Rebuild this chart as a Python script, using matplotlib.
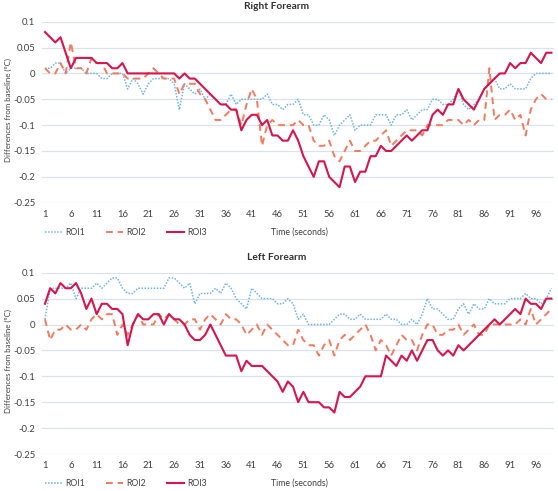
import numpy as np
from matplotlib import pyplot as plt
plt.switch_backend('agg')

plt.rcParams['font.family'] = ['Lato', 'DejaVu Sans']

x = np.arange(1, 100)
xticks = np.arange(1, 100, 5)
labels = ["ROI1", "ROI2", "ROI3"]

right_roi1 = [0.01, 0.01, 0.02, 0.02, 0, 0.01, 0.01, 0.01, 0, 0,
              0, -0.01, -0.01, 0, 0, 0, -0.03, -0.01, -0.02, -0.04,
              -0.02, -0.01, -0.01, -0.01, -0.01, -0.02, -0.07, -0.02, -0.03, -0.04,
              -0.03, -0.05, -0.04, -0.05, -0.06, -0.06, -0.04, -0.06, -0.05, -0.05,
              -0.05, -0.05, -0.05, -0.04, -0.06, -0.06, -0.07, -0.06, -0.06, -0.05,
              -0.08, -0.08, -0.10, -0.10, -0.08, -0.09, -0.12, -0.10, -0.09, -0.08,
              -0.11, -0.10, -0.10, -0.10, -0.08, -0.08, -0.08, -0.10, -0.08, -0.08,
              -0.07, -0.09, -0.08, -0.07, -0.07, -0.05, -0.05, -0.06, -0.06, -0.05,
              -0.03, -0.06, -0.07, -0.06, -0.05, -0.03, -0.02, -0.01, -0.03, -0.03,
              -0.02, -0.03, -0.03, -0.03, -0.01, 0, 0, 0, 0]
right_roi2 = [0.01, 0, 0, 0.02, 0, 0.06, 0.01, 0.01, 0, 0.03,
              0.02, 0.02, 0, 0, 0, 0, -0.01, -0.01, -0.01, -0.01,
              0, 0.01, 0, -0.01, -0.01, -0.01, -0.04, -0.02, -0.02, -0.02,
              -0.04, -0.05, -0.07, -0.09, -0.09, -0.08, -0.07, -0.07, -0.10, -0.06,
              -0.03, -0.05, -0.14, -0.10, -0.09, -0.10, -0.10, -0.10, -0.10, -0.09,
              -0.10, -0.10, -0.13, -0.14, -0.14, -0.13, -0.16, -0.17, -0.15, -0.13,
              -0.15, -0.15, -0.14, -0.13, -0.13, -0.12, -0.11, -0.14, -0.13, -0.12,
              -0.11, -0.11, -0.11, -0.12, -0.10, -0.10, -0.10, -0.10, -0.09, -0.09,
              -0.09, -0.10, -0.09, -0.10, -0.09, -0.09, 0.01, -0.09, -0.08, -0.08,
              -0.07, -0.09, -0.08, -0.12, -0.07, -0.05, -0.04, -0.05, -0.05]
right_roi3 = [0.08, 0.07, 0.06, 0.07, 0.04, 0.01, 0.03, 0.03, 0.03, 0.03,
              0.02, 0.02, 0.02, 0.01, 0.01, 0.02, 0, 0, 0, 0,
              0, 0, 0, 0, 0, 0, -0.01, 0, -0.01, -0.01,
              -0.02, -0.03, -0.04, -0.05, -0.06, -0.06, -0.07, -0.07, -0.11, -0.09,
              -0.08, -0.08, -0.10, -0.09, -0.12, -0.12, -0.13, -0.13, -0.11, -0.13,
              -0.16, -0.18, -0.20, -0.17, -0.17, -0.20, -0.21, -0.22, -0.18, -0.18,
              -0.21, -0.19, -0.19, -0.16, -0.16, -0.14, -0.15, -0.15, -0.14, -0.13,
              -0.12, -0.13, -0.12, -0.11, -0.11, -0.08, -0.07, -0.08, -0.06, -0.06,
              -0.03, -0.05, -0.06, -0.07, -0.05, -0.03, -0.02, -0.01, 0, 0,
              0.02, 0.01, 0.02, 0.02, 0.04, 0.03, 0.02, 0.04, 0.04]

left_roi1 = [0.01, 0.07, 0.07, 0.07, 0.07, 0.08, 0.05, 0.07, 0.07, 0.07,
             0.08, 0.07, 0.08, 0.09, 0.09, 0.07, 0.06, 0.06, 0.07, 0.07,
             0.07, 0.07, 0.07, 0.07, 0.09, 0.09, 0.08, 0.07, 0.08, 0.04,
             0.06, 0.06, 0.06, 0.07, 0.06, 0.08, 0.07, 0.05, 0.04, 0.03,
             0.07, 0.06, 0.05, 0.05, 0.05, 0.04, 0.04, 0.05, 0.04, 0.01,
             0.02, 0, 0, 0, 0, 0, 0.01, 0.02, 0.02, 0.01,
             0.01, 0.02, 0.01, 0.01, 0.01, 0.01, 0.02, 0.01, 0.01, 0,
             0, 0.01, 0, 0.02, 0.05, 0.03, 0.03, 0.02, 0.01, 0.01,
             0.03, 0.04, 0.02, 0.04, 0.03, 0.03, 0.05, 0.04, 0.04, 0.04,
             0.05, 0.05, 0.05, 0.06, 0.05, 0.05, 0.04, 0.05, 0.07]
left_roi2 = [0.01, -0.03, -0.01, -0.01, 0, -0.01, -0.01, 0, -0.01, 0.01,
             0.02, 0.01, 0.02, 0.02, -0.02, 0, -0.02, 0, 0.02, 0,
             0, 0, 0.02, 0.01, 0.02, 0.01, 0, 0, 0.01, 0.01,
             -0.01, 0.01, 0.02, 0.01, 0, 0.02, 0.01, 0.01, 0, -0.02,
             -0.01, 0, -0.02, 0, -0.01, -0.02, -0.03, -0.04, -0.04, -0.01,
             -0.03, -0.04, -0.04, -0.06, -0.04, -0.03, -0.06, -0.03, -0.02, -0.03,
             -0.02, -0.01, 0, -0.02, -0.05, -0.03, -0.04, -0.06, -0.04, -0.02,
             -0.03, -0.03, -0.05, -0.02, 0, 0, -0.02, -0.02, -0.01, -0.01,
             0, -0.02, -0.01, 0, -0.02, -0.02, 0, 0, 0, 0,
             0, 0, 0.01, 0, 0.03, 0, 0.01, 0.02, 0.03]
left_roi3 = [0.04, 0.07, 0.06, 0.08, 0.07, 0.07, 0.08, 0.06, 0.03, 0.05,
             0.02, 0.04, 0.04, 0.03, 0.03, 0.02, -0.04, 0, 0.02, 0.01,
             0.01, 0.02, 0.02, 0, 0.02, 0.01, 0.01, 0, -0.02, -0.03,
             -0.03, -0.02, 0, -0.02, -0.04, -0.06, -0.06, -0.06, -0.09, -0.07,
             -0.08, -0.08, -0.08, -0.09, -0.10, -0.11, -0.13, -0.11, -0.12, -0.15,
             -0.13, -0.15, -0.15, -0.15, -0.16, -0.16, -0.17, -0.13, -0.14, -0.14,
             -0.13, -0.12, -0.10, -0.10, -0.10, -0.10, -0.06, -0.07, -0.08, -0.06,
             -0.07, -0.05, -0.07, -0.05, -0.03, -0.03, -0.05, -0.06, -0.05, -0.06,
             -0.04, -0.05, -0.04, -0.03, -0.02, -0.01, 0, 0.01, 0, 0.01,
             0.02, 0.03, 0.02, 0.05, 0.04, 0.04, 0.03, 0.05, 0.05]

c1 = '#6db3ec'
c2 = '#f27a5e'
c3 = '#d5154b'
txt = '#404040'

fig = plt.figure(figsize=(5.58, 4.91), dpi=100)
W, H = 558.0, 491.0

def panel(top, bottom, title, r1, r2, r3):
    ax = fig.add_axes([42.4 / W, (H - bottom) / H, (554 - 42.4) / W, (bottom - top) / H])
    ax.plot(x, r1, color=c1, lw=1.1, linestyle=(0, (1, 1)))
    ax.plot(x, r2, color=c2, lw=1.4, linestyle=(0, (3.5, 2.5)))
    ax.plot(x, r3, color=c3, lw=1.5)
    ax.set_xlim(0.5, 99.5)
    ax.set_ylim(-0.25, 0.1)
    yt = [-0.25, -0.2, -0.15, -0.1, -0.05, 0, 0.05, 0.1]
    ax.set_yticks(yt)
    ax.set_yticklabels(["-0.25", "-0.2", "-0.15", "-0.1", "-0.05", "0", "0.05", "0.1"])
    ax.set_xticks(xticks)
    ax.set_xticklabels([str(v) for v in xticks])
    for v in yt:
        ax.axhline(v, color='#dae3ec', lw=0.9, zorder=0)
    for s in ax.spines.values():
        s.set_visible(False)
    ax.tick_params(length=0, labelsize=6.8, colors=txt, pad=5)
    ax.patch.set_alpha(0)
    fig.text(277 / W, 1 - (top - 15) / H, title, ha='center', va='center',
             fontsize=7.3, fontweight='bold', color='#303030')
    fig.text(8 / W, 1 - ((top + bottom) / 2 - 2) / H, u"Differences from baseline (\u00baC)",
             rotation=90, ha='center', va='center', fontsize=5.7, color=txt)
    fig.text(299 / W, 1 - (bottom + 29.5) / H, "Time (seconds)", ha='center', va='center',
             fontsize=6.3, color=txt)
    leg = ax.legend(labels, loc='center left', ncol=3, frameon=False, fontsize=6.3,
                    bbox_to_anchor=(45 / W, 1 - (bottom + 29.5) / H),
                    bbox_transform=fig.transFigure, handlelength=2.0,
                    handletextpad=0.3, columnspacing=2.4, borderaxespad=0, borderpad=0)
    for t in leg.get_texts():
        t.set_color(txt)
    return ax

panel(21.7, 202.7, "Right Forearm", right_roi1, right_roi2, right_roi3)
panel(272.7, 454.0, "Left Forearm", left_roi1, left_roi2, left_roi3)

plt.savefig('out.png', dpi=100)
